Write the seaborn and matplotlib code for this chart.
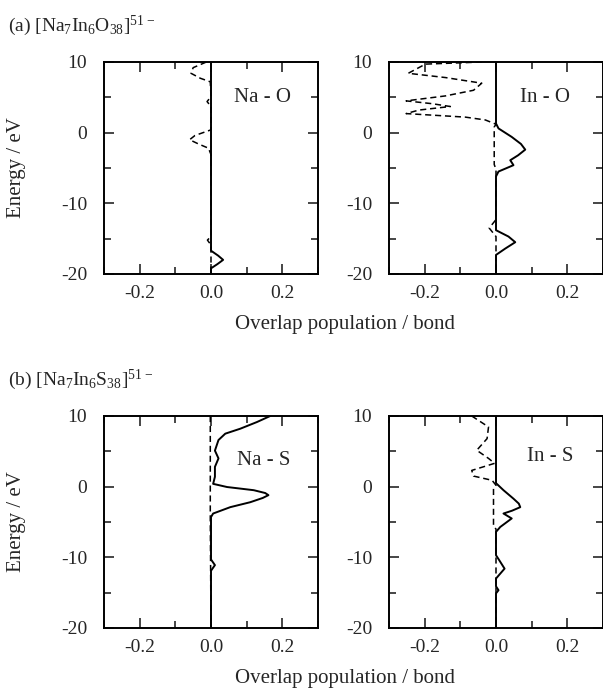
import numpy as np
import matplotlib
matplotlib.use("Agg")
import matplotlib.pyplot as plt
import matplotlib.ticker as mtick
import seaborn as sns

# Overlap population curves (energy in eV, overlap per bond)
na_o_dash_e = [10, 9.2, 8.4, 7.7, 7.2, 5.1, 4.4, 3.7, 0.4, -0.4, -1.0, -1.6, -2.2, -3.1,
               -14.7, -15.2, -15.9, -20]
na_o_dash_x = [-0.013, -0.05, -0.056, -0.03, -0.002, 0, -0.011, 0, 0, -0.045, -0.06,
               -0.035, -0.007, 0, 0, -0.01, 0, 0]
na_o_solid_e = [10, -16.7, -17.4, -18.0, -18.6, -19.2, -20]
na_o_solid_x = [0, 0, 0.02, 0.034, 0.018, 0, 0]

in_o_dash_e = [10, 9.7, 8.4, 7.8, 7.0, 6.0, 5.2, 4.5, 4.1, 3.7, 3.2, 2.7, 2.2, 1.8, 1.2,
               0.8, -4.5, -5.2, -12.3, -13.5, -14.7, -20]
in_o_dash_x = [-0.04, -0.198, -0.246, -0.142, -0.04, -0.063, -0.142, -0.252, -0.179, -0.128,
               -0.216, -0.252, -0.086, -0.03, 0, -0.005, -0.005, 0, 0, -0.019, 0, 0]
in_o_solid_e = [10, 1.3, 0.6, -0.6, -1.6, -2.4, -3.2, -3.9, -4.6, -5.5, -6.2, -13.8, -14.7,
                -15.5, -16.4, -17.3, -20]
in_o_solid_x = [0, 0, 0.007, 0.044, 0.07, 0.082, 0.062, 0.040, 0.049, 0.007, 0, 0, 0.035,
                0.054, 0.026, 0, 0]

na_s_dash_e = [10, -4.5, -20]
na_s_dash_x = [-0.002, -0.002, 0]
na_s_solid_e = [10, 9.15, 8.2, 7.5, 6.6, 5.1, 4.0, 2.8, 1.4, 0.4, -0.05, -0.5, -0.9, -1.2,
                -1.6, -2.2, -2.9, -3.8, -4.3, -10.3, -11.1, -11.9, -20]
na_s_solid_x = [0.166, 0.129, 0.082, 0.040, 0.021, 0.011, 0.021, 0.011, 0.011, 0.006,
                0.045, 0.12, 0.152, 0.161, 0.145, 0.11, 0.054, 0.006, 0, 0, 0.011, 0, 0]

in_s_dash_e = [10, 8.45, 6.8, 5.15, 4.0, 3.3, 2.3, 1.5, 0.9, 0.2, -0.3, -5.6, -6.0, -20]
in_s_dash_x = [-0.068, -0.021, -0.025, -0.054, -0.021, -0.004, -0.068, -0.063, -0.011,
               0, -0.007, -0.007, 0, 0]
in_s_solid_e = [10, 0.5, -0.5, -1.7, -2.4, -2.9, -3.4, -3.8, -4.5, -5.7, -6.4, -9.7, -10.4,
                -11.6, -13.0, -14.1, -14.65, -15.1, -20]
in_s_solid_x = [0, 0, 0.021, 0.049, 0.064, 0.068, 0.045, 0.021, 0.044, 0.012, 0, 0, 0.009,
                0.024, 0, 0, 0.007, 0, 0]

bond_labels = ["Na - O", "In - O", "Na - S", "In - S"]
x_ticks = [-0.2, 0.0, 0.2]
y_ticks = [10, 0, -10, -20]

sns.set_theme(style="ticks")
plt.rcParams["font.family"] = ["Liberation Serif", "DejaVu Serif"]
plt.rcParams["mathtext.default"] = "regular"
plt.rcParams["axes.unicode_minus"] = False
plt.rcParams["xtick.direction"] = "in"
plt.rcParams["ytick.direction"] = "in"

fig = plt.figure(figsize=(6.03, 6.92), dpi=100)
W, H = 603, 692


def make_ax(left, top, width=214, height=212):
    return fig.add_axes([left / W, 1 - (top + height) / H, width / W, height / H])


axes = [make_ax(104, 62), make_ax(389, 62), make_ax(104, 416), make_ax(389, 416)]
curves = [
    (na_o_solid_x, na_o_solid_e, na_o_dash_x, na_o_dash_e),
    (in_o_solid_x, in_o_solid_e, in_o_dash_x, in_o_dash_e),
    (na_s_solid_x, na_s_solid_e, na_s_dash_x, na_s_dash_e),
    (in_s_solid_x, in_s_solid_e, in_s_dash_x, in_s_dash_e),
]
label_pos = [(0.065, 5.0), (0.068, 5.0), (0.073, 3.7), (0.086, 4.2)]

for i, ax in enumerate(axes):
    sx, se, dx, de = curves[i]
    sns.lineplot(x=dx, y=de, sort=False, estimator=None, color="black",
                 linestyle=(0, (4, 2.5)), lw=1.1, ax=ax)
    sns.lineplot(x=sx, y=se, sort=False, estimator=None, color="black",
                 lw=1.4, ax=ax)
    ax.set_xlim(-0.3, 0.3)
    ax.set_ylim(-20, 10)
    ax.set_xticks(x_ticks)
    ax.set_xticklabels([f"{t:.1f}" for t in x_ticks])
    ax.set_yticks(y_ticks)
    ax.xaxis.set_minor_locator(mtick.MultipleLocator(0.1))
    ax.yaxis.set_minor_locator(mtick.MultipleLocator(5))
    ax.tick_params(which="both", top=True, right=True, labelsize=14, width=1.2)
    ax.tick_params(axis="x", which="both", pad=8)
    ax.tick_params(axis="y", which="both", pad=12)
    ax.tick_params(which="major", length=7)
    ax.tick_params(which="minor", length=5)
    for sp in ax.spines.values():
        sp.set_linewidth(1.4)
        sp.set_color("black")
    lx, ly = label_pos[i]
    ax.text(lx, ly, bond_labels[i], fontsize=15, ha="left", va="center")
    if i % 2 == 0:
        ax.set_ylabel("Energy / eV", fontsize=15)
        ax.yaxis.set_label_coords(-0.365, 0.5)

fig.text(8 / W, 1 - 26 / H, r"(a) $[Na_7In_6O_{38}]^{51-}$", fontsize=14, va="center")
fig.text(8 / W, 1 - 380 / H, r"(b) $[Na_7In_6S_{38}]^{51-}$", fontsize=14, va="center")
fig.text(345 / W, 1 - 325 / H, "Overlap population / bond", fontsize=15,
         ha="center", va="center")
fig.text(345 / W, 1 - 679 / H, "Overlap population / bond", fontsize=15,
         ha="center", va="center")

fig.savefig("out.png", dpi=100)
